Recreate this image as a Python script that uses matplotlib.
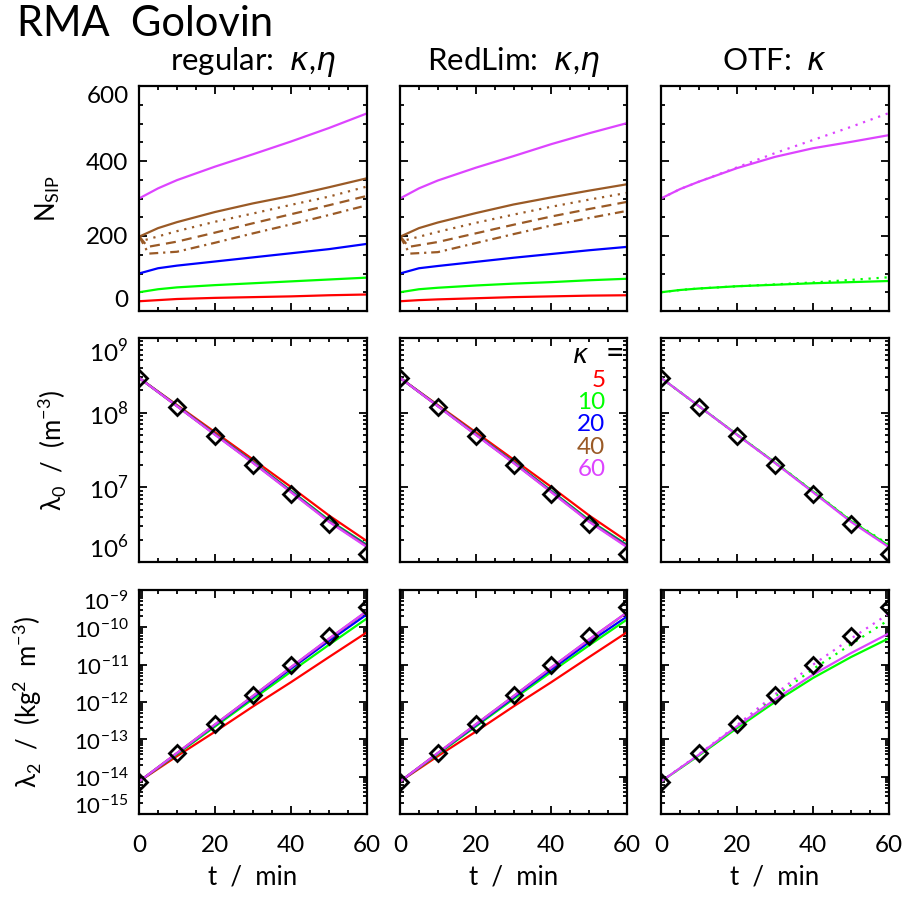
import matplotlib
matplotlib.use("Agg")
import matplotlib.pyplot as plt
from matplotlib.ticker import FixedLocator, MultipleLocator, LogLocator, NullFormatter

plt.rcParams['font.family'] = ['Lato', 'DejaVu Sans']
plt.rcParams['font.weight'] = 'normal'
plt.rcParams['mathtext.fontset'] = 'custom'
plt.rcParams['mathtext.rm'] = 'Lato'
plt.rcParams['mathtext.it'] = 'DejaVu Sans:italic'
plt.rcParams['mathtext.bf'] = 'DejaVu Sans:bold'

# ---------------- data ----------------
T_N = [0, 5, 10, 20, 30, 40, 50, 60]
T = [0, 10, 20, 30, 40, 50, 60]
T_DOT = [0, 1.5, 10, 20, 30, 40, 50, 60]
T_DASH = [0, 2.3, 10, 20, 30, 40, 50, 60]
T_DD = [0, 2.5, 10, 20, 30, 40, 50, 60]
kappas = ["5", "10", "20", "40", "60"]

# N_SIP, regular
reg_n5 = [26, 29, 32, 35, 37, 39, 42, 44]
reg_n10 = [50, 58, 63, 69, 74, 79, 84, 89]
reg_n20 = [100, 114, 121, 132, 143, 154, 165, 179]
reg_n40 = [198, 221, 237, 264, 287, 307, 330, 354]
reg_n60 = [300, 327, 349, 385, 418, 452, 488, 527]
reg_n40_dot = [200, 189, 213, 238, 260, 283, 305, 332]
reg_n40_dash = [200, 171, 185, 209, 234, 258, 282, 307]
reg_n40_dd = [200, 153, 158, 182, 207, 231, 256, 282]

# N_SIP, RedLim
rl_n5 = [26, 29, 31, 34, 37, 39, 41, 42]
rl_n10 = [50, 58, 62, 68, 73, 77, 82, 86]
rl_n20 = [100, 114, 120, 131, 142, 152, 162, 171]
rl_n40 = [198, 221, 236, 261, 284, 303, 321, 338]
rl_n60 = [300, 327, 348, 382, 413, 445, 474, 501]
rl_n40_dot = [200, 189, 211, 235, 257, 278, 297, 315]
rl_n40_dash = [200, 171, 184, 207, 230, 252, 272, 291]
rl_n40_dd = [200, 153, 157, 181, 205, 228, 248, 267]

# N_SIP, OTF
otf_n10 = [50, 56, 60, 66, 70, 74, 77, 80]
otf_n10_dot = [50, 56, 60, 66, 71, 76, 83, 90]
otf_n60 = [300, 325, 345, 381, 411, 434, 451, 469]
otf_n60_dot = [300, 325, 345, 383, 421, 456, 491, 528]

# lambda_0 reference (diamonds)
ref_l0 = [2.93e8, 1.18e8, 4.8e7, 1.97e7, 8.1e6, 3.2e6, 1.28e6]
reg_l0_5 = [2.93e8, 1.265e8, 5.47e7, 2.36e7, 1.01e7, 4.2e6, 1.9e6]
reg_l0_10 = [2.93e8, 1.24e8, 5.2e7, 2.2e7, 9.0e6, 3.65e6, 1.7e6]
reg_l0_20 = [2.93e8, 1.23e8, 5.15e7, 2.17e7, 8.85e6, 3.55e6, 1.66e6]
reg_l0_40 = [2.93e8, 1.22e8, 5.1e7, 2.14e7, 8.7e6, 3.5e6, 1.62e6]
reg_l0_60 = [2.93e8, 1.22e8, 5.05e7, 2.12e7, 8.6e6, 3.45e6, 1.58e6]
rl_l0_5 = [2.93e8, 1.265e8, 5.47e7, 2.36e7, 1.01e7, 4.2e6, 1.9e6]
rl_l0_10 = [2.93e8, 1.24e8, 5.2e7, 2.2e7, 9.0e6, 3.65e6, 1.7e6]
rl_l0_20 = [2.93e8, 1.23e8, 5.15e7, 2.17e7, 8.85e6, 3.55e6, 1.66e6]
rl_l0_40 = [2.93e8, 1.22e8, 5.1e7, 2.14e7, 8.7e6, 3.5e6, 1.62e6]
rl_l0_60 = [2.93e8, 1.22e8, 5.05e7, 2.12e7, 8.6e6, 3.45e6, 1.58e6]
otf_l0_10 = [2.93e8, 1.22e8, 5.1e7, 2.15e7, 8.8e6, 3.55e6, 1.65e6]
otf_l0_10_dot = [2.93e8, 1.22e8, 5.1e7, 2.16e7, 8.9e6, 3.6e6, 1.7e6]
otf_l0_60 = [2.93e8, 1.22e8, 5.05e7, 2.12e7, 8.6e6, 3.45e6, 1.58e6]
otf_l0_60_dot = [2.93e8, 1.22e8, 5.05e7, 2.13e7, 8.65e6, 3.5e6, 1.6e6]

# lambda_2 reference (diamonds)
ref_l2 = [7.4e-15, 4.4e-14, 2.6e-13, 1.55e-12, 9.8e-12, 5.75e-11, 3.4e-10]
reg_l2_5 = [7.4e-15, 3.55e-14, 1.6e-13, 7.6e-13, 3.4e-12, 1.6e-11, 7.4e-11]
reg_l2_10 = [7.4e-15, 4.0e-14, 2.2e-13, 1.2e-12, 6.5e-12, 3.4e-11, 1.74e-10]
reg_l2_20 = [7.4e-15, 4.2e-14, 2.4e-13, 1.35e-12, 7.8e-12, 4.3e-11, 2.24e-10]
reg_l2_40 = [7.4e-15, 4.3e-14, 2.5e-13, 1.45e-12, 8.5e-12, 4.9e-11, 2.7e-10]
reg_l2_60 = [7.4e-15, 4.3e-14, 2.5e-13, 1.45e-12, 8.6e-12, 5.0e-11, 2.75e-10]
rl_l2_5 = [7.4e-15, 3.55e-14, 1.6e-13, 7.6e-13, 3.4e-12, 1.6e-11, 7.4e-11]
rl_l2_10 = [7.4e-15, 4.0e-14, 2.2e-13, 1.2e-12, 6.4e-12, 3.3e-11, 1.62e-10]
rl_l2_20 = [7.4e-15, 4.2e-14, 2.35e-13, 1.32e-12, 7.4e-12, 4.0e-11, 1.95e-10]
rl_l2_40 = [7.4e-15, 4.3e-14, 2.5e-13, 1.43e-12, 8.3e-12, 4.7e-11, 2.5e-10]
rl_l2_60 = [7.4e-15, 4.3e-14, 2.5e-13, 1.43e-12, 8.4e-12, 4.75e-11, 2.52e-10]
otf_l2_10 = [7.4e-15, 3.7e-14, 2.0e-13, 1.0e-12, 4.4e-12, 1.6e-11, 5.1e-11]
otf_l2_10_dot = [7.4e-15, 3.8e-14, 2.1e-13, 1.4e-12, 7.6e-12, 3.5e-11, 1.6e-10]
otf_l2_60 = [7.4e-15, 3.9e-14, 2.24e-13, 1.17e-12, 5.4e-12, 2.04e-11, 6.9e-11]
otf_l2_60_dot = [7.4e-15, 4.0e-14, 2.4e-13, 1.6e-12, 1.0e-11, 5.0e-11, 2.34e-10]

col_titles = ["regular:  $\\kappa$,$\\eta$", "RedLim:  $\\kappa$,$\\eta$", "OTF:  $\\kappa$"]
row_labels = ["N$_{\\mathrm{SIP}}$", "$\\mathrm{\\lambda}_0$  /  (m$^{-3}$)",
              "$\\mathrm{\\lambda}_2$  /  (kg$^2$  m$^{-3}$)"]
n_ticks = [0, 200, 400, 600]
l0_ticks = [1e6, 1e7, 1e8, 1e9]
l0_labels = ["$10^{6}$", "$10^{7}$", "$10^{8}$", "$10^{9}$"]
l2_ticks = [1e-15, 1e-14, 1e-13, 1e-12, 1e-11, 1e-10, 1e-9]
l2_labels = ["$10^{-15}$", "$10^{-14}$", "$10^{-13}$", "$10^{-12}$",
             "$10^{-11}$", "$10^{-10}$", "$10^{-9}$"]
t_ticks = [0, 20, 40, 60]

# ---------------- style ----------------
colors = {"5": "#ff0000", "10": "#00ff00", "20": "#0000ff", "40": "#9a5a26", "60": "#dd44ff"}
LW = 1.6
DOT = (0, (1, 2.6))
DASH = (0, (4.5, 2.8))
DASHDOT = (0, (4.0, 2.2, 1.0, 2.2))
TICK_FS = 17.5
LAB_FS = 18.5

W, H = 908, 900
fig = plt.figure(figsize=(W / 100, H / 100), dpi=100)

col_x = [(139, 367), (400, 627), (661, 889)]
row_y = [(86, 311), (338, 562), (590, 814)]
ylabel_x = [-0.338, -0.311, -0.417]

axes = [[None] * 3 for _ in range(3)]
for r, (y0, y1) in enumerate(row_y):
    for c, (x0, x1) in enumerate(col_x):
        ax = fig.add_axes([x0 / W, 1 - y1 / H, (x1 - x0) / W, (y1 - y0) / H])
        axes[r][c] = ax
        for s in ax.spines.values():
            s.set_linewidth(1.6)
        ax.set_xlim(0, 60)
        ax.xaxis.set_major_locator(FixedLocator(t_ticks))
        ax.xaxis.set_minor_locator(MultipleLocator(5))
        ax.tick_params(which='both', direction='in', top=True, right=True,
                       labelsize=TICK_FS, width=1.3)
        ax.tick_params(which='major', length=5.5)
        ax.tick_params(which='minor', length=3)
        ax.tick_params(axis='x', which='major', pad=15)
        ax.tick_params(axis='y', which='major', pad=7.5)
        if r < 2:
            ax.tick_params(labelbottom=False)
        else:
            ax.set_xlabel("t  /  min", fontsize=LAB_FS, labelpad=6)
        if r == 0:
            ax.set_ylim(0, 600)
            ax.yaxis.set_major_locator(FixedLocator(n_ticks))
            ax.set_yticklabels([str(v) for v in n_ticks])
            ax.yaxis.set_minor_locator(MultipleLocator(50))
            ax.set_title(col_titles[c], fontsize=22.5, pad=11.5)
        elif r == 1:
            ax.set_yscale('log')
            ax.set_ylim(1e6, 1e9)
            ax.yaxis.set_major_locator(FixedLocator(l0_ticks))
            ax.set_yticklabels(l0_labels)
            ax.yaxis.set_minor_locator(LogLocator(base=10, subs=range(2, 10), numticks=20))
            ax.yaxis.set_minor_formatter(NullFormatter())
        else:
            ax.set_yscale('log')
            ax.set_ylim(1e-15, 1e-9)
            ax.yaxis.set_major_locator(FixedLocator(l2_ticks))
            ax.set_yticklabels(l2_labels)
            ax.yaxis.set_minor_locator(LogLocator(base=10, subs=range(2, 10), numticks=20))
            ax.yaxis.set_minor_formatter(NullFormatter())
        if c > 0:
            ax.tick_params(labelleft=False)
        else:
            ax.set_ylabel(row_labels[r], fontsize=LAB_FS)
            ax.yaxis.set_label_coords(ylabel_x[r], 0.5)
            labs = ax.get_yticklabels()
            if r == 2:
                for lb in labs:
                    lb.set_fontsize(16)
                labs[0].set_va('baseline')
            else:
                labs[0].set_va('bottom')
            labs[-1].set_va('top')

def plot_set(ax, series, ls='-', t=T):
    for k, y in series:
        ax.plot(t, y, color=colors[k], lw=LW, ls=ls)

# Row 1: N_SIP
for c, sets in enumerate([
        ([("5", reg_n5), ("10", reg_n10), ("20", reg_n20), ("40", reg_n40), ("60", reg_n60)],
         reg_n40_dot, reg_n40_dash, reg_n40_dd),
        ([("5", rl_n5), ("10", rl_n10), ("20", rl_n20), ("40", rl_n40), ("60", rl_n60)],
         rl_n40_dot, rl_n40_dash, rl_n40_dd)]):
    ax = axes[0][c]
    solid, dot, dash, dd = sets
    plot_set(ax, solid, t=T_N)
    ax.plot(T_DOT, dot, color=colors["40"], lw=LW, ls=DOT)
    ax.plot(T_DASH, dash, color=colors["40"], lw=LW, ls=DASH)
    ax.plot(T_DD, dd, color=colors["40"], lw=LW, ls=DASHDOT)

ax = axes[0][2]
plot_set(ax, [("10", otf_n10), ("60", otf_n60)], t=T_N)
plot_set(ax, [("10", otf_n10_dot), ("60", otf_n60_dot)], ls=DOT, t=T_N)

# Row 2: lambda_0
plot_set(axes[1][0], [("5", reg_l0_5), ("10", reg_l0_10), ("20", reg_l0_20),
                      ("40", reg_l0_40), ("60", reg_l0_60)])
plot_set(axes[1][1], [("5", rl_l0_5), ("10", rl_l0_10), ("20", rl_l0_20),
                      ("40", rl_l0_40), ("60", rl_l0_60)])
plot_set(axes[1][2], [("10", otf_l0_10_dot), ("60", otf_l0_60_dot)], ls=DOT)
plot_set(axes[1][2], [("10", otf_l0_10), ("60", otf_l0_60)])

# Row 3: lambda_2
plot_set(axes[2][0], [("5", reg_l2_5), ("10", reg_l2_10), ("20", reg_l2_20),
                      ("40", reg_l2_40), ("60", reg_l2_60)])
plot_set(axes[2][1], [("5", rl_l2_5), ("10", rl_l2_10), ("20", rl_l2_20),
                      ("40", rl_l2_40), ("60", rl_l2_60)])
plot_set(axes[2][2], [("10", otf_l2_10_dot), ("60", otf_l2_60_dot)], ls=DOT)
plot_set(axes[2][2], [("10", otf_l2_10), ("60", otf_l2_60)])

for c in range(3):
    axes[1][c].plot(T, ref_l0, ls='none', marker='D', ms=8.5, mfc='none', mec='black', mew=2.0)
    axes[2][c].plot(T, ref_l2, ls='none', marker='D', ms=8.5, mfc='none', mec='black', mew=2.0)

# legend text in middle panel
axl = axes[1][1]
axl.text(0.797, 0.924, "$\\kappa$", transform=axl.transAxes, fontsize=TICK_FS + 1,
         ha='center', va='center', color='black')
axl.text(0.947, 0.93, "=", transform=axl.transAxes, fontsize=23,
         ha='center', va='center', color='black')
for k, yy in zip(kappas, [0.8125, 0.71, 0.616, 0.513, 0.411]):
    axl.text(0.905, yy, k, transform=axl.transAxes, fontsize=TICK_FS,
             ha='right', va='center', color=colors[k])

fig.text(17 / W, 1 - 24 / H, "RMA  Golovin", fontsize=30, ha='left', va='center')

fig.savefig("out.png", dpi=100)
